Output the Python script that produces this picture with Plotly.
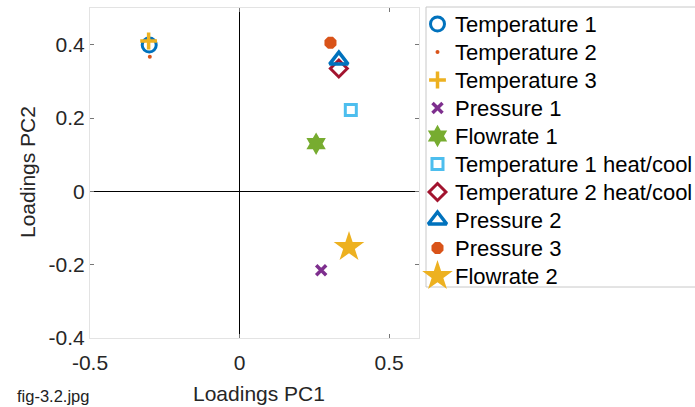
import plotly.graph_objects as go

# PCA loadings of the process variables (PC1, PC2)
variables = [
    "Temperature 1", "Temperature 2", "Temperature 3", "Pressure 1", "Flowrate 1",
    "Temperature 1 heat/cool", "Temperature 2 heat/cool", "Pressure 2", "Pressure 3", "Flowrate 2",
]
pc1 = [-0.302, -0.300, -0.304, 0.273, 0.256, 0.372, 0.332, 0.332, 0.304, 0.366]
pc2 = [0.399, 0.367, 0.410, -0.215, 0.130, 0.222, 0.335, 0.358, 0.405, -0.152]

x_ticks = [-0.5, 0, 0.5]
y_ticks = [-0.4, -0.2, 0, 0.2, 0.4]

# marker styling per variable (symbol, colour, size, outline width)
symbols = ["circle-open", "circle", "cross-thin", "x-thin", "hexagram",
           "square-open", "diamond-open", "triangle-up-open", "octagon", "star"]
colors = ["#0072BD", "#D95319", "#EDB120", "#7E2F8E", "#77AC30",
          "#4DBEEE", "#A2142F", "#0072BD", "#D95319", "#EDB120"]
sizes = [14, 4, 12, 10, 17, 11, 13, 16, 13, 23]
widths = [3, 0, 3.5, 3.5, 0, 3, 3, 3.5, 0, 0]

FONT = "Liberation Sans, Arial, sans-serif"
W, H = 695, 407

# pixel frame of the loadings axes
PL, PR, PT, PB = 90, 419, 8, 338
# legend box (pixels) and its row layout
LG_LEFT, LG_TOP, LG_BOTTOM = 426, 7, 287
LG_ROW0, LG_STEP, LG_MARK_X, LG_TEXT_X = 24, 28, 437.5, 453


def marker_style(i):
    return dict(symbol=symbols[i], color=colors[i], size=sizes[i],
                line=dict(color=colors[i], width=widths[i]))


fig = go.Figure()
for i, name in enumerate(variables):
    fig.add_trace(go.Scatter(
        x=[pc1[i]], y=[pc2[i]], mode="markers", name=name,
        marker=marker_style(i), showlegend=False,
        xaxis="x", yaxis="y",
    ))

# legend entries drawn on a page-sized pixel overlay
for i, name in enumerate(variables):
    row_y = LG_ROW0 + LG_STEP * i
    fig.add_trace(go.Scatter(
        x=[LG_MARK_X], y=[row_y], mode="markers", name=name,
        marker=marker_style(i), showlegend=False, hoverinfo="skip",
        xaxis="x2", yaxis="y2",
    ))
    fig.add_annotation(text=name, xref="x2", yref="y2", x=LG_TEXT_X, y=row_y,
                       xanchor="left", yanchor="middle", showarrow=False,
                       font=dict(family=FONT, size=22, color="#000000"))

fig.add_shape(type="rect", xref="x2", yref="y2",
              x0=LG_LEFT, x1=W + 10, y0=LG_TOP, y1=LG_BOTTOM,
              line=dict(color="#C8C8C8", width=1), fillcolor="rgba(0,0,0,0)", layer="below")

# axis titles
fig.add_annotation(text="Loadings PC1", xref="x2", yref="y2", x=(PL + PR) / 2 + 4.5, y=393,
                   xanchor="center", yanchor="middle", showarrow=False,
                   font=dict(family=FONT, size=21, color="#262626"))
fig.add_annotation(text="Loadings PC2", xref="x2", yref="y2", x=27, y=172, textangle=-90,
                   xanchor="center", yanchor="middle", showarrow=False,
                   font=dict(family=FONT, size=21, color="#262626"))

axis_common = dict(
    showgrid=False, automargin=False,
    zeroline=True, zerolinecolor="#000000", zerolinewidth=1,
    showline=True, linecolor="#E3E3E3", linewidth=1, mirror="ticks",
    ticks="inside", ticklen=4, tickcolor="#777777",
    tickfont=dict(family=FONT, size=21, color="#262626"),
)

fig.update_layout(
    width=W, height=H,
    margin=dict(l=0, r=0, t=0, b=0, autoexpand=False),
    paper_bgcolor="white", plot_bgcolor="rgba(0,0,0,0)",
    showlegend=False,
    xaxis=dict(domain=[PL / W, PR / W], anchor="y",
               range=[-0.5, 0.6], tickvals=x_ticks, ticktext=[f"{v:g}" for v in x_ticks],
               ticklabelstandoff=6, **axis_common),
    yaxis=dict(domain=[(H - PB) / H, (H - PT) / H], anchor="x",
               range=[-0.4, 0.5], tickvals=y_ticks, ticktext=[f"{v:g}" for v in y_ticks],
               **axis_common),
    xaxis2=dict(domain=[0, 1], range=[0, W], visible=False, fixedrange=True,
                anchor="y2", automargin=False),
    yaxis2=dict(domain=[0, 1], range=[H, 0], visible=False, fixedrange=True,
                anchor="x2", automargin=False),
)

fig.add_annotation(text="fig-3.2.jpg", xref="x2", yref="y2", x=15, y=396,
                   xanchor="left", yanchor="middle", showarrow=False,
                   font=dict(family=FONT, size=16.5, color="#222222"))

fig.write_html("out.html")
